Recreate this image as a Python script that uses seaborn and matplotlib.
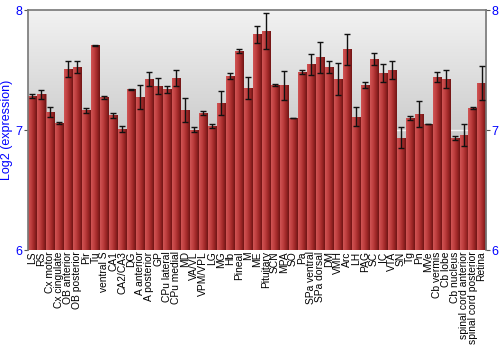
import numpy as np
import pandas as pd
import matplotlib
matplotlib.use("Agg")
import matplotlib.pyplot as plt
import seaborn as sns
from matplotlib.colors import LinearSegmentedColormap

regions = ["LS", "RS", "Cx motor", "Cx cingulate", "OB anterior", "OB posterior", "Pir", "Tu",
           "ventral S", "CA1", "CA2/CA3", "DG", "A anterior", "A posterior", "GP", "CPu lateral",
           "CPu medial", "MD", "VA/VL", "VPM/VPL", "LG", "MG", "Hb", "Pineal", "M", "ME",
           "Pituitary", "SCN", "MPA", "SO", "Pa", "SPa ventral", "SPa dorsal", "DM", "VMH", "Arc",
           "LH", "PAG", "SC", "IC", "VTA", "SN", "Tg", "Pn", "MVe", "Cb vermis", "Cb lobe",
           "Cb nucleus", "spinal cord anterior", "spinal cord posterior", "Retina"]
expression = [7.283, 7.297, 7.150, 7.060, 7.506, 7.522, 7.164, 7.705,
              7.272, 7.122, 7.006, 7.339, 7.275, 7.425, 7.367, 7.339,
              7.433, 7.164, 7.003, 7.142, 7.033, 7.225, 7.453, 7.658, 7.350, 7.797,
              7.825, 7.375, 7.372, 7.100, 7.481, 7.547, 7.606, 7.525, 7.425, 7.672,
              7.111, 7.378, 7.594, 7.478, 7.497, 6.936, 7.100, 7.133, 7.050, 7.442, 7.425,
              6.936, 6.958, 7.183, 7.392]
error = [0.02, 0.04, 0.04, 0.01, 0.065, 0.05, 0.02, 0.005,
         0.01, 0.02, 0.025, 0.004, 0.10, 0.055, 0.07, 0.03,
         0.064, 0.10, 0.02, 0.02, 0.015, 0.10, 0.025, 0.015, 0.09, 0.07,
         0.15, 0.012, 0.12, 0.004, 0.018, 0.09, 0.13, 0.05, 0.13, 0.13,
         0.08, 0.025, 0.05, 0.075, 0.075, 0.085, 0.015, 0.11, 0.004, 0.04, 0.075,
         0.018, 0.093, 0.008, 0.145]

df = pd.DataFrame({"region": regions, "expression": expression})

sns.set_style("white")
plt.rcParams["font.family"] = ["Liberation Sans", "DejaVu Sans"]

fig = plt.figure(figsize=(5, 3.5), dpi=100)
ax = fig.add_axes([0.056, 0.2857, 0.916, 0.6857])

sns.barplot(data=df, x="region", y="expression", color="#b03030", width=0.9,
            errorbar=None, ax=ax, zorder=2)
ax.set_ylim(6, 8)
xmin, xmax = -0.5, len(regions) - 0.5
ax.set_xlim(xmin, xmax)

# background gradient
bg = LinearSegmentedColormap.from_list("bg", ["#a8a8a8", "#f2f2f2"])
grad = np.linspace(0, 1, 256).reshape(-1, 1)
ax.imshow(grad, cmap=bg, aspect="auto", extent=(xmin, xmax, 6, 8), origin="lower", zorder=0)
ax.axhline(7, color="#f4f4f4", lw=1, zorder=1)

# bar gradient
barcm = LinearSegmentedColormap.from_list("bar", ["#d05555", "#c04040", "#a02828", "#701515"])
hgrad = np.linspace(0, 1, 64).reshape(1, -1)
for p in ax.patches:
    x0, w, h = p.get_x(), p.get_width(), p.get_height()
    p.set_facecolor("none")
    p.set_edgecolor("#8a2a2a")
    p.set_linewidth(0.4)
    im = ax.imshow(hgrad, cmap=barcm, aspect="auto", extent=(x0, x0 + w, 6, h), zorder=2)
    im.set_clip_path(p)

centers = [p.get_x() + p.get_width() / 2 for p in ax.patches]
ax.errorbar(centers, expression, yerr=error, fmt="none", ecolor="#111111",
            elinewidth=1.0, capsize=2, capthick=1.0, zorder=3)

ax.set_xlim(xmin, xmax)
ax.set_ylim(6, 8)
ax.set_yticks([6, 7, 8])
ax.set_xlabel("")
ax.set_ylabel("Log2 (expression)", color="#0000ff", fontsize=9, labelpad=2)
ax.tick_params(axis="y", colors="#0000ff", labelsize=9, length=3, left=True, right=True,
               labelleft=True, labelright=True, pad=1)
ax.tick_params(axis="y", which="both", color="#555555")
ax.tick_params(axis="x", labelsize=7.4, rotation=90, length=0, pad=1, colors="black")
for s in ["left", "right", "top"]:
    ax.spines[s].set_color("#777777")
    ax.spines[s].set_linewidth(1.2)
ax.spines["bottom"].set_visible(False)

fig.savefig("out.png", dpi=100)
